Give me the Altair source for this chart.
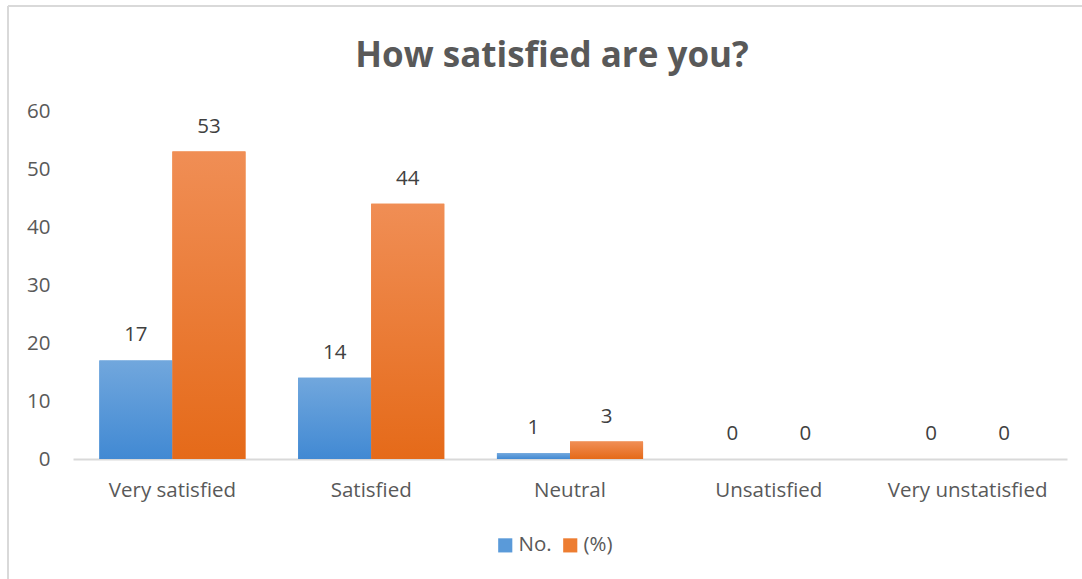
import altair as alt
import pandas as pd

categories = ["Very satisfied", "Satisfied", "Neutral", "Unsatisfied", "Very unstatisfied"]
series = ["No.", "(%)"]
count_values = [17, 14, 1, 0, 0]
pct_values = [53, 44, 3, 0, 0]

rows = []
for c, n, p in zip(categories, count_values, pct_values):
    rows.append({"category": c, "series": "No.", "value": n})
    rows.append({"category": c, "series": "(%)", "value": p})
df = pd.DataFrame(rows)

TEXT = "#595959"
FONT = "Open Sans"
FS = 20.5

blue_grad = alt.LinearGradient(
    gradient="linear", x1=0, x2=0, y1=0, y2=1,
    stops=[alt.GradientStop(color="#71a7dd", offset=0),
           alt.GradientStop(color="#4189d3", offset=1)])
orange_grad = alt.LinearGradient(
    gradient="linear", x1=0, x2=0, y1=0, y2=1,
    stops=[alt.GradientStop(color="#f08e55", offset=0),
           alt.GradientStop(color="#e56a19", offset=1)])

x_enc = alt.X("category:N", sort=categories,
              scale=alt.Scale(paddingInner=0.265, paddingOuter=0.1325),
              axis=alt.Axis(title=None, labelAngle=0, ticks=False,
                            domainColor="#d9d9d9", domainWidth=2,
                            labelFontSize=FS, labelColor=TEXT, labelFont=FONT,
                            labelPadding=21))
y_enc = alt.Y("value:Q", scale=alt.Scale(domain=[0, 60]),
              axis=alt.Axis(title=None, values=[0, 10, 20, 30, 40, 50, 60],
                            grid=False, domain=False, ticks=False,
                            labelFontSize=FS, labelColor=TEXT, labelFont=FONT,
                            labelPadding=23))
xo_enc = alt.XOffset("series:N", sort=series, scale=alt.Scale(domain=series))

base = alt.Chart(df)

legend_bars = base.mark_bar().encode(
    x=x_enc, y=y_enc, xOffset=xo_enc,
    color=alt.Color("series:N", sort=series,
                    scale=alt.Scale(domain=series, range=["#5a9ad9", "#ed7d31"]),
                    legend=alt.Legend(title=None, orient="none", direction="horizontal",
                                      legendX=422, legendY=424, symbolType="square",
                                      symbolSize=200, symbolStrokeWidth=0,
                                      labelFontSize=FS, labelColor=TEXT, labelFont=FONT,
                                      columnPadding=8, labelOffset=3)),
)

blue_bars = base.transform_filter(alt.datum.series == "No.").mark_bar(color=blue_grad).encode(
    x=x_enc, y=y_enc, xOffset=xo_enc)
orange_bars = base.transform_filter(alt.datum.series == "(%)").mark_bar(color=orange_grad).encode(
    x=x_enc, y=y_enc, xOffset=xo_enc)

labels = base.mark_text(baseline="bottom", dy=-15, fontSize=FS, color="#404040", font=FONT).encode(
    x=x_enc, y=y_enc, xOffset=xo_enc, text=alt.Text("value:Q"))

top_border = base.mark_rule(color="#d9d9d9", strokeWidth=2).encode(
    x=alt.value(-65), x2=alt.value(1020), y=alt.value(-105))
left_border = base.mark_rule(color="#d9d9d9", strokeWidth=2).encode(
    x=alt.value(-65), y=alt.value(-105), y2=alt.value(480))

chart = alt.layer(top_border, left_border, legend_bars, blue_bars, orange_bars, labels).properties(
    width=994, height=348,
    background="white",
    padding={"left": 73, "top": 111, "right": 15, "bottom": 120},
    autosize=alt.AutoSizeParams(type="none"),
    title=alt.TitleParams("How satisfied are you?", font=FONT, fontSize=35, fontWeight="bold",
                          color=TEXT, anchor="middle", dx=-18, offset=-97, baseline="alphabetic"),
).configure_view(stroke="transparent", strokeWidth=0)

chart.save("out.html", embed_options={"renderer": "svg", "actions": False})
